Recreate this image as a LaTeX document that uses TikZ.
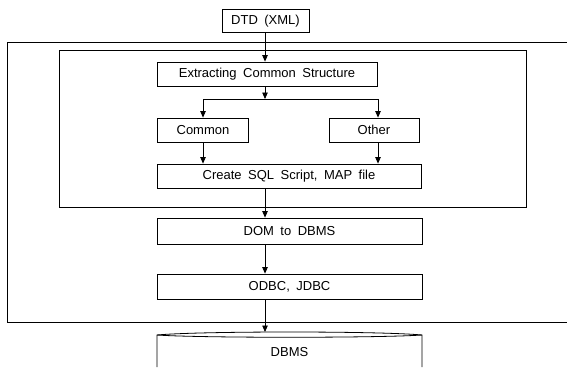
\documentclass[tikz,border=0pt]{standalone}
\usepackage{fontspec}
\setmainfont{Liberation Sans}[WordSpace=1.8]
\usetikzlibrary{arrows.meta}
\begin{document}
\begin{tikzpicture}[x=1pt,y=-1pt,
  box/.style={draw, line width=0.8pt, rectangle, inner sep=0pt, font=\fontsize{13}{15}\selectfont},
  arr/.style={draw, line width=0.8pt, -{Triangle[width=5.5pt,length=6.5pt]}},
  frame/.style={draw, line width=0.8pt}]
\useasboundingbox (0,0) rectangle (567,367);
% nodes
\node[box, minimum width=87pt, minimum height=23pt] (dtd) at (265.5,21) {DTD (XML)};
\node[box, minimum width=220pt, minimum height=24pt] (ext) at (267,74) {Extracting Common Structure};
\node[box, minimum width=91pt, minimum height=24pt] (com) at (203,130) {Common};
\node[box, minimum width=90pt, minimum height=24pt] (oth) at (374,130) {Other};
\node[box, minimum width=264pt, minimum height=24pt] (sql) at (289,176) {Create SQL Script, MAP file};
\node[box, minimum width=265pt, minimum height=26pt] (dom) at (289.5,231) {DOM to DBMS};
\node[box, minimum width=265pt, minimum height=25pt] (odbc) at (289.5,286.5) {ODBC, JDBC};
\node[inner sep=0pt, font=\fontsize{13}{15}\selectfont] (dbms) at (289.5,352) {DBMS};
% frames
\path[frame] (567,42) -- (7,42) -- (7,322) -- (567,322);
\path[frame] (59,50) rectangle (526,207);
% cylinder
\path[frame] (157,367) -- (157,335) .. controls (200,331) and (379,331) .. (422,335) -- (422,367);
\path[frame] (157,335) .. controls (200,338) and (379,338) .. (422,335);
% connectors
\coordinate (split) at (265,99);
\coordinate (othin) at ([xshift=4pt]oth.north);
\coordinate (othout) at ([xshift=4pt]oth.south);
\coordinate (cyltop) at (265,332);
\path[arr] (dtd.south -| split) -- (ext.north -| split);
\path[arr] (ext.south -| split) -- (split);
\path[arr] (split) -| (com.north);
\path[arr] (split) -| (othin);
\path[arr] (com.south) -- (sql.north -| com.south);
\path[arr] (othout) -- (sql.north -| othout);
\path[arr] (sql.south -| split) -- (dom.north -| split);
\path[arr] (dom.south -| split) -- (odbc.north -| split);
\path[arr] (odbc.south -| split) -- (cyltop);
\end{tikzpicture}
\end{document}
